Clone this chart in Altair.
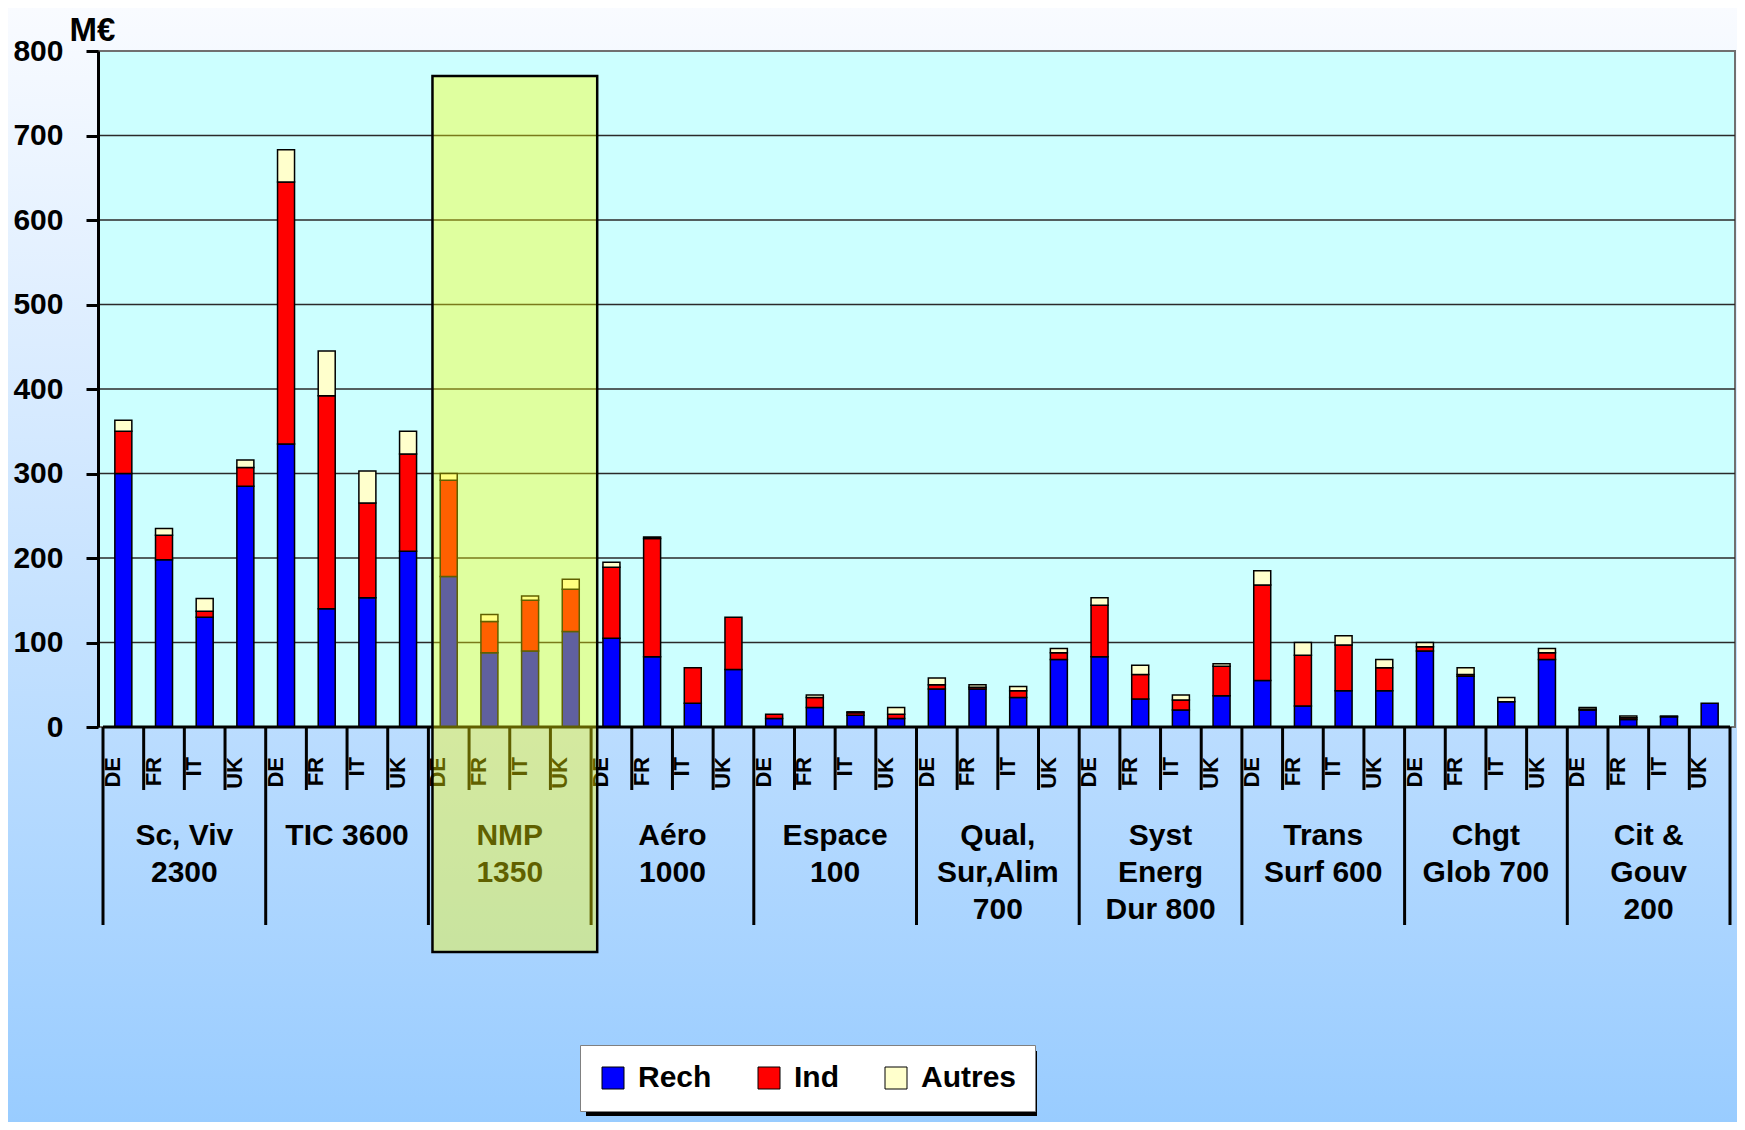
import altair as alt
import pandas as pd

# ---------------- data ----------------
groups = ["Sc, Viv\n2300", "TIC 3600", "NMP\n1350", "Aéro\n1000", "Espace\n100",
          "Qual,\nSur,Alim\n700", "Syst\nEnerg\nDur 800", "Trans\nSurf 600",
          "Chgt\nGlob 700", "Cit &\nGouv\n200"]
countries = ["DE", "FR", "IT", "UK"]
series = ["Rech", "Ind", "Autres"]
colors = ["#0000FF", "#FF0000", "#FFFFCC"]

rech = [300, 198, 130, 285,  335, 140, 153, 208,  178, 88, 90, 113,  105, 83, 28, 68,
        10, 23, 14, 10,  45, 45, 35, 80,  83, 33, 20, 37,  55, 25, 43, 43,
        90, 60, 30, 80,  20, 9, 12, 28]
ind = [50, 29, 7, 22,  310, 252, 112, 115,  114, 37, 60, 50,  84, 140, 42, 62,
       5, 12, 3, 5,  5, 2, 8, 8,  61, 29, 12, 35,  113, 60, 54, 27,
       5, 2, 0, 8,  1, 2, 0, 0]
autres = [13, 8, 15, 9,  38, 53, 38, 27,  8, 8, 5, 12,  6, 2, 0, 0,
          0, 3, 1, 8,  8, 3, 5, 5,  9, 11, 6, 3,  17, 15, 11, 10,
          5, 8, 5, 5,  2, 2, 1, 0]
y_ticks = [0, 100, 200, 300, 400, 500, 600, 700, 800]
highlight = "NMP\n1350"

# ---------------- layout constants ----------------
W, H = 1637, 676
FONT = "Liberation Sans"
n_slots = len(groups) * len(countries)

rows = []
for i in range(n_slots):
    base = 0
    for s, vals in zip(series, [rech, ind, autres]):
        v = vals[i]
        if v > 0:
            rows.append({"slot": i + 0.5, "series": s, "y0": base, "y1": base + v})
            base += v
bars = pd.DataFrame(rows)

xs = alt.Scale(domain=[0, n_slots], nice=False, zero=False)
ys = alt.Scale(domain=[0, 800], nice=False, zero=True)

yaxis = alt.Axis(values=y_ticks, grid=False, domainColor="black", domainWidth=3,
                 tickColor="black", tickWidth=3, tickSize=12,
                 labelFont=FONT, labelFontSize=30, labelFontWeight="bold",
                 labelColor="black", labelPadding=23,
                 title="M€", titleAngle=0, titleX=-29, titleY=-11, titleAlign="left",
                 titleBaseline="alphabetic", titleFont=FONT, titleFontSize=33,
                 titleFontWeight="bold", titleColor="black", zindex=1)

LEG_X, LEG_Y, LEG_W, LEG_H = 482, 994, 451, 65
legend = alt.Legend(orient="none", legendX=LEG_X, legendY=LEG_Y, direction="horizontal",
                    title=None, fillColor="white", strokeColor="#808080", padding=18,
                    symbolType="square", symbolSize=484, symbolStrokeColor="black",
                    symbolStrokeWidth=1, symbolOpacity=1, labelFont=FONT, labelFontSize=30,
                    labelFontWeight="bold", labelColor="black", labelOffset=10,
                    columnPadding=42)

# background gradient
bg = alt.Chart(pd.DataFrame({"k": [0]})).mark_rect(
    fill={"gradient": "linear", "x1": 0, "y1": 0, "x2": 0, "y2": 1,
          "stops": [{"offset": 0, "color": "#F9FBFF"}, {"offset": 1, "color": "#99CCFF"}]}
).encode(x=alt.value(-90), x2=alt.value(W + 2), y=alt.value(-43), y2=alt.value(H + 395))

plot_bg = alt.Chart(pd.DataFrame({"k": [0]})).mark_rect(
    fill="#CCFFFF", stroke="#707070", strokeWidth=2
).encode(x=alt.value(0), x2=alt.value(W), y=alt.value(0), y2=alt.value(H))

grid = alt.Chart(pd.DataFrame({"v": y_ticks[1:-1]})).mark_rule(
    color="#2A2A2A", strokeWidth=1.3
).encode(y=alt.Y("v:Q", scale=ys, axis=yaxis), x=alt.value(0), x2=alt.value(W))

bar_layer = alt.Chart(bars).mark_bar(size=17, stroke="black", strokeWidth=1.5).encode(
    x=alt.X("slot:Q", scale=xs, axis=None),
    y=alt.Y("y0:Q", scale=ys, axis=yaxis),
    y2="y1:Q",
    color=alt.Color("series:N", scale=alt.Scale(domain=series, range=colors), legend=legend),
)

baseline = alt.Chart(pd.DataFrame({"a": [0], "b": [n_slots], "v": [0]})).mark_rule(
    color="black", strokeWidth=3
).encode(x=alt.X("a:Q", scale=xs, axis=None), x2="b:Q", y=alt.Y("v:Q", scale=ys, axis=yaxis))

bounds = list(range(n_slots + 1))
long_b = pd.DataFrame({"b": [b for b in bounds if b % 4 == 0]})
short_b = pd.DataFrame({"b": [b for b in bounds if b % 4 != 0]})
long_sep = alt.Chart(long_b).mark_rule(color="black", strokeWidth=3).encode(
    x=alt.X("b:Q", scale=xs, axis=None), y=alt.value(H), y2=alt.value(H + 198))
short_sep = alt.Chart(short_b).mark_rule(color="black", strokeWidth=3).encode(
    x=alt.X("b:Q", scale=xs, axis=None), y=alt.value(H), y2=alt.value(H + 63))

clabels = pd.DataFrame({"b": list(range(n_slots)),
                        "t": [countries[i % 4] for i in range(n_slots)]})
country_text = alt.Chart(clabels).mark_text(
    angle=270, align="right", baseline="top", font=FONT, fontSize=22,
    fontWeight="bold", color="black"
).encode(x=alt.X("b:Q", scale=xs, axis=None), y=alt.value(H + 30), text="t:N")

glabels = pd.DataFrame({"c": [4 * g + 2 for g in range(len(groups))], "t": groups})
group_text = alt.Chart(glabels).mark_text(
    align="center", baseline="alphabetic", lineBreak="\n", lineHeight=37,
    font=FONT, fontSize=30, fontWeight="bold", color="black"
).encode(x=alt.X("c:Q", scale=xs, axis=None), y=alt.value(H + 118), text="t:N")

hl = groups.index(highlight)
overlay = alt.Chart(pd.DataFrame({"a": [4 * hl + 0.1], "b": [4 * hl + 4.15]})).mark_rect(
    fill="#FFFF00", fillOpacity=0.376, stroke="black", strokeWidth=2.5
).encode(x=alt.X("a:Q", scale=xs, axis=None), x2="b:Q", y=alt.value(25), y2=alt.value(901))

shadow = alt.Chart(pd.DataFrame({"k": [0]})).mark_rect(fill="black").encode(
    x=alt.value(LEG_X + 6), x2=alt.value(LEG_X + LEG_W + 6),
    y=alt.value(LEG_Y + 6), y2=alt.value(LEG_Y + LEG_H + 6))

chart = alt.layer(
    bg, plot_bg, grid, bar_layer, baseline, long_sep, short_sep,
    country_text, group_text, overlay, shadow
).properties(
    width=W, height=H,
    padding={"left": 90, "top": 43, "right": 2, "bottom": 395},
    autosize=alt.AutoSizeParams(type="none"),
).configure_view(strokeWidth=0).configure(background="#F9FBFF")

chart.save("out.html", embed_options={"renderer": "svg", "actions": False})
